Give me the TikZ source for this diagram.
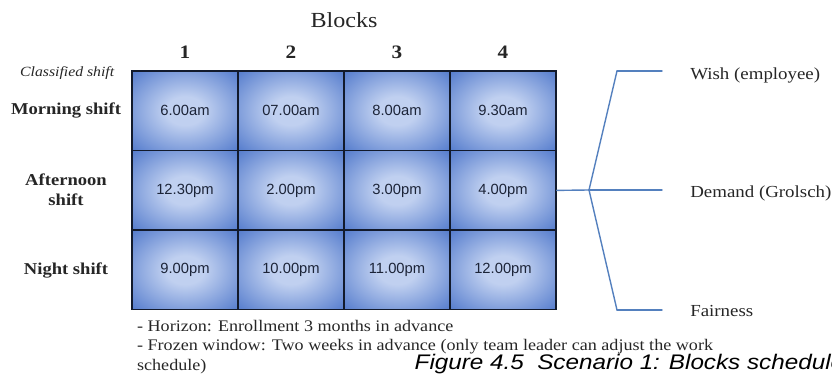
\documentclass[tikz,border=0pt]{standalone}
\usepackage{tkz-euclide}
\usepackage{fontspec}
\setmainfont{Liberation Serif}[FakeStretch=1.12]
\newfontfamily\cellfont{Liberation Sans}
\newfontfamily\capfont{Liberation Sans}[FakeStretch=1.15]
\tikzset{>=stealth}

\definecolor{cellblue}{RGB}{58,103,196}
\definecolor{celllight}{RGB}{192,208,240}
\definecolor{cellline}{RGB}{18,26,44}
\definecolor{celltext}{RGB}{28,36,56}
\definecolor{linkblue}{RGB}{84,128,190}
\definecolor{inkgray}{RGB}{38,38,38}
\pgfdeclareradialshading{cellglow}{\pgfpoint{0bp}{0bp}}{color(0bp)=(celllight); color(9bp)=(celllight); color(42bp)=(cellblue); color(75bp)=(cellblue)}

\begin{document}
\begin{tikzpicture}[
  cell/.style={draw=cellline, line width=1pt, shading=cellglow, minimum width=2.65cm,
    minimum height=1.99cm, inner sep=0pt, text=celltext,
    font=\cellfont\fontsize{10.5}{12}\selectfont},
  colhead/.style={text=inkgray, font=\bfseries\fontsize{13.5}{15}\selectfont},
  rowhead/.style={text=inkgray, align=center, font=\bfseries\fontsize{11.8}{14.5}\selectfont},
  sidelabel/.style={anchor=west, inner sep=0pt, text=inkgray, font=\fontsize{12}{14}\selectfont},
  notes/.style={anchor=base west, inner sep=0pt, text=inkgray, font=\fontsize{11.5}{14}\selectfont},
  link/.style={draw=linkblue, line width=1pt}]
\useasboundingbox (0,0) rectangle (20.8,9.45);

% headings
\node[text=inkgray, font=\fontsize{15.3}{17}\selectfont] (blocks) at (8.6,8.95) {Blocks};
\foreach \c in {1,...,4}
  \node[colhead] (h\c) at ({1.975+2.65*\c},8.15) {\c};
\node[text=inkgray, font=\itshape\fontsize{10}{11}\selectfont] (classified) at (1.68,7.63) {Classified shift};
\node[rowhead] (morning) at (1.65,6.68) {Morning shift};
\node[rowhead] (afternoon) at (1.65,4.7) {Afternoon\\shift};
\node[rowhead] (night) at (1.65,2.7) {Night shift};

% the block grid
\foreach \r/\slots in {1/{6.00am,07.00am,8.00am,9.30am},
                       2/{12.30pm,2.00pm,3.00pm,4.00pm},
                       3/{9.00pm,10.00pm,11.00pm,12.00pm}}
  \foreach \t [count=\c] in \slots
    \node[cell] (c\r\c) at ({1.975+2.65*\c},{8.67-1.99*\r}) {\t};

% criteria fork
\tkzDefPoints{14.725/4.7/F, 15.425/7.675/W, 16.55/7.675/Wx, 16.55/4.7/Dx,
  15.425/1.7/R, 16.55/1.7/Rx}
\coordinate (out) at (c24.east);
\tkzDrawSegments[link](out,F F,W W,Wx F,Dx F,R R,Rx)
\node[sidelabel] (wish) at (17.25,7.56) {Wish (employee)};
\node[sidelabel] (demand) at (17.25,4.62) {Demand (Grolsch)};
\node[sidelabel] (fairness) at (17.25,1.68) {Fairness};

% remarks and caption
\node[notes] (horizon) at (3.42,1.17) {- Horizon: Enrollment 3 months in advance};
\node[notes] (frozen) at (3.42,0.68) {- Frozen window: Two weeks in advance (only team leader can adjust the work};
\node[notes] (frozenb) at (3.42,0.19) {schedule)};
\node[anchor=base west, inner sep=0pt, font=\capfont\itshape\fontsize{15}{16}\selectfont]
  (caption) at (10.36,0.2) {Figure 4.5\ \ Scenario 1: Blocks schedule};
\end{tikzpicture}
\end{document}
